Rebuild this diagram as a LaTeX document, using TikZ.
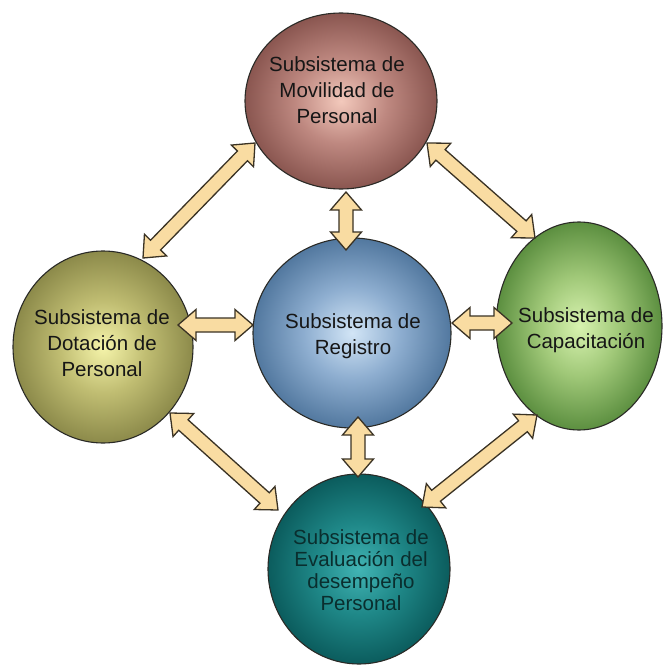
\documentclass[tikz,border=0pt]{standalone}
\usepackage{fontspec}
\setmainfont{Liberation Sans}
\usetikzlibrary{shapes.geometric,calc}

\definecolor{arrfill}{HTML}{F9DCA2}
\definecolor{arrline}{HTML}{3A3224}
\definecolor{circline}{HTML}{2A2A26}
\definecolor{txt}{HTML}{161616}
\definecolor{txtb}{HTML}{0A2E2E}

\definecolor{movA}{HTML}{F3C9BC}\definecolor{movB}{HTML}{BE8880}\definecolor{movC}{HTML}{8A5650}
\definecolor{dotA}{HTML}{F5F4AA}\definecolor{dotB}{HTML}{C0BD72}\definecolor{dotC}{HTML}{8C8A4A}
\definecolor{regA}{HTML}{D2E5F6}\definecolor{regB}{HTML}{8EAED0}\definecolor{regC}{HTML}{52789F}
\definecolor{capA}{HTML}{D8F3B0}\definecolor{capB}{HTML}{A0C878}\definecolor{capC}{HTML}{5C8F40}
\definecolor{evaA}{HTML}{42B4B4}\definecolor{evaB}{HTML}{1F8888}\definecolor{evaC}{HTML}{0B5C5D}

\newcommand\mkshade[4]{\pgfdeclareradialshading{#1}{\pgfpoint{0bp}{0bp}}{color(0bp)=(#2);color(12bp)=(#3);color(25bp)=(#4);color(50bp)=(#4)}}
\mkshade{movshade}{movA}{movB}{movC}
\mkshade{dotshade}{dotA}{dotB}{dotC}
\mkshade{regshade}{regA}{regB}{regC}
\mkshade{capshade}{capA}{capB}{capC}
\mkshade{evashade}{evaA}{evaB}{evaC}

\def\ah{18pt}
\def\aw{15.5pt}
\def\as{7pt}
\newcommand\blockarrow[2]{%
  \filldraw[arrowblock] (#1)
    -- ($(#1)!\ah!(#2)!\aw!90:(#2)$)
    -- ($(#1)!\ah!(#2)!\as!90:(#2)$)
    -- ($(#2)!\ah!(#1)!\as!-90:(#1)$)
    -- ($(#2)!\ah!(#1)!\aw!-90:(#1)$)
    -- (#2)
    -- ($(#2)!\ah!(#1)!\aw!90:(#1)$)
    -- ($(#2)!\ah!(#1)!\as!90:(#1)$)
    -- ($(#1)!\ah!(#2)!\as!-90:(#2)$)
    -- ($(#1)!\ah!(#2)!\aw!-90:(#2)$)
    -- cycle;}

\tikzset{
  sub/.style={ellipse, draw=circline, line width=1.1pt},
  arrowblock/.style={fill=arrfill, draw=arrline, line width=1.3pt, line join=miter},
  label/.style={text=txt, align=center, font=\fontsize{20.5}{26}\selectfont},
  labelb/.style={text=txtb, align=center, font=\fontsize{20.5}{22}\selectfont},
}

\begin{document}
\begin{tikzpicture}[x=1pt, y=-1pt]
\useasboundingbox (0,0) rectangle (666,666);
\fill[white] (0,0) rectangle (666,666);

% circles
\node[sub, shading=movshade, minimum width=192pt, minimum height=176pt] (mov) at (341,101) {};
\node[sub, shading=dotshade, minimum width=180pt, minimum height=192pt] (dot) at (103,347) {};
\node[sub, shading=regshade, minimum width=198pt, minimum height=190pt] (reg) at (352,333) {};
\node[sub, shading=capshade, minimum width=166pt, minimum height=208pt] (cap) at (579,326) {};
\node[sub, shading=evashade, minimum width=182pt, minimum height=190pt] (eva) at (359,569) {};

% arrow end points
\coordinate (a1s) at (255,143); \coordinate (a1e) at (143,258);
\coordinate (a2s) at (346,192); \coordinate (a2e) at (346,250);
\coordinate (a3s) at (427,143); \coordinate (a3e) at (535,238);
\coordinate (a4s) at (178,325); \coordinate (a4e) at (253,325);
\coordinate (a5s) at (452,323); \coordinate (a5e) at (512,323);
\coordinate (a6s) at (358,417); \coordinate (a6e) at (358,477);
\coordinate (a7s) at (170,413); \coordinate (a7e) at (278,510);
\coordinate (a8s) at (537,415); \coordinate (a8e) at (422,507);

\blockarrow{a1s}{a1e}
\blockarrow{a2s}{a2e}
\blockarrow{a3s}{a3e}
\blockarrow{a4s}{a4e}
\blockarrow{a5s}{a5e}
\blockarrow{a6s}{a6e}
\blockarrow{a7s}{a7e}
\blockarrow{a8s}{a8e}

% texts
\node[label] (tmov) at (337,90) {Subsistema de\\Movilidad de\\Personal};
\node[label] (tdot) at (102,343) {Subsistema de\\Dotación de\\Personal};
\node[label] (treg) at (353,336) {Subsistema de\\Registro};
\node[label] (tcap) at (586,330) {Subsistema de\\Capacitación};
\node[labelb] (teva) at (361,570) {Subsistema de\\Evaluación del\\desempeño\\Personal};
\end{tikzpicture}
\end{document}
